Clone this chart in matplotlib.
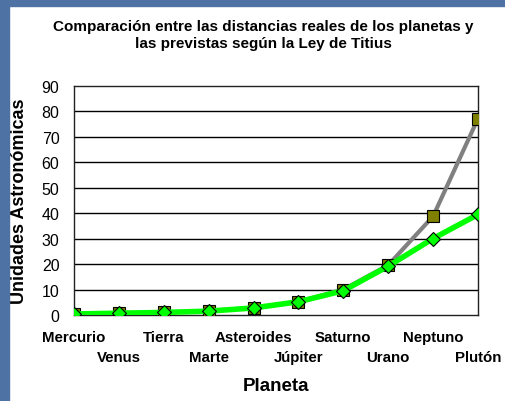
import matplotlib.pyplot as plt
import matplotlib.patches as patches

planetas = ['Mercurio', 'Venus', 'Tierra', 'Marte', 'Asteroides',
            'Júpiter', 'Saturno', 'Urano', 'Neptuno', 'Plutón']
titius = [0.4, 0.7, 1.0, 1.6, 2.8, 5.2, 10.0, 19.6, 38.8, 77.2]
reales = [0.39, 0.72, 1.0, 1.52, 2.77, 5.2, 9.54, 19.2, 30.06, 39.5]

plt.rcParams['font.family'] = ['Liberation Sans', 'DejaVu Sans']

fig = plt.figure(figsize=(5.06, 4.02), dpi=100)
# marco azul arriba e izquierda
fig.patches.append(patches.Rectangle((0, 0), 9/506, 1, transform=fig.transFigure,
                                     color='#4e72a3', zorder=0))
fig.patches.append(patches.Rectangle((0, 1-7/402), 1, 7/402, transform=fig.transFigure,
                                     color='#4e72a3', zorder=0))

ax = fig.add_axes([74/506, 86/402, 404/506, 229/402])
x = list(range(len(planetas)))

ax.plot(x, titius, color='#808080', lw=3, marker='s', markersize=8,
        markerfacecolor='#808000', markeredgecolor='black', markeredgewidth=0.8, zorder=3)
ax.plot(x, reales, color='#00ff00', lw=4, marker='D', markersize=7.5,
        markerfacecolor='#00ff00', markeredgecolor='black', markeredgewidth=0.8, zorder=4)

ax.set_xlim(0, 9)
ax.set_ylim(0, 90)
ax.set_yticks(range(0, 100, 10))
for v in range(10, 90, 10):
    ax.axhline(v, color='black', lw=1, zorder=1)

# etiquetas alternadas en dos filas
ax.set_xticks(x[0::2])
ax.set_xticklabels(planetas[0::2], fontweight='bold', fontsize=10.8)
ax.set_xticks(x[1::2], minor=True)
ax.set_xticklabels(planetas[1::2], minor=True, fontweight='bold', fontsize=10.8)
ax.tick_params(axis='both', which='both', length=0)
ax.tick_params(axis='x', which='major', pad=11)
ax.tick_params(axis='x', which='minor', pad=25.5)
ax.tick_params(axis='y', pad=10.5, labelsize=11.5)

for s in ax.spines.values():
    s.set_color('#222222')
    s.set_linewidth(1)

ax.set_ylabel('Unidades Astronómicas', fontsize=13, fontweight='bold')
ax.yaxis.set_label_coords(-0.114, 0.5)
ax.set_xlabel('Planeta', fontsize=13.5, fontweight='bold')
ax.xaxis.set_label_coords(0.5, -0.272)

fig.text(0.52, 0.911, 'Comparación entre las distancias reales de los planetas y\nlas previstas según la Ley de Titius',
         ha='center', va='center', fontsize=11, fontweight='bold', linespacing=1.3)

fig.savefig('out.png', dpi=100)
